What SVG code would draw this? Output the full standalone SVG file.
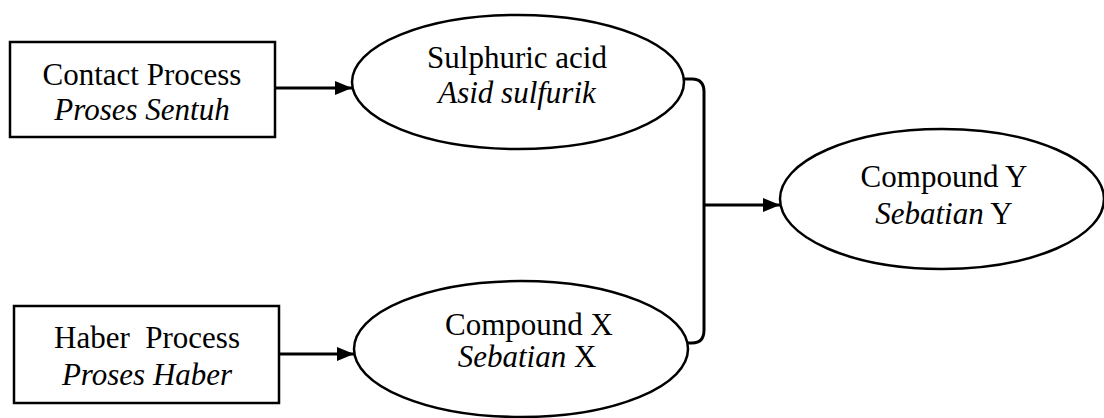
<svg xmlns="http://www.w3.org/2000/svg" width="1104" height="418" viewBox="0 0 1104 418">
<defs>
<style>
.box{fill:#fff;stroke:#000;stroke-width:2.5}
.ell{fill:#fff;stroke:#000;stroke-width:2.5}
.t{font-family:"Liberation Serif","Times New Roman",serif;font-size:31px;fill:#000;text-anchor:middle}
.i{font-style:italic}
.con{fill:none;stroke:#000;stroke-width:3}
</style>
<marker id="ah" markerUnits="userSpaceOnUse" markerWidth="18" markerHeight="14" refX="17" refY="7" orient="auto">
<path d="M0,0 L17,7 L0,14 Z" fill="#000"/>
</marker>
</defs>
<rect width="1104" height="418" fill="#fff"/>
<g id="connectors">
<line class="con" x1="275" y1="88" x2="352" y2="88" marker-end="url(#ah)"/>
<line class="con" x1="279" y1="354" x2="354" y2="354" marker-end="url(#ah)"/>
<path class="con" d="M683,79 L692,79 Q704,79 704,92 L704,330 Q704,343 692,343 L687,343"/>
<line class="con" x1="704" y1="205" x2="780" y2="205" marker-end="url(#ah)"/>
</g>
<g id="contact">
<rect class="box" x="10" y="42" width="265" height="95"/>
<text class="t" x="142" y="85">Contact Process</text>
<text class="t i" x="142" y="120">Proses Sentuh</text>
</g>
<g id="haber">
<rect class="box" x="14" y="306" width="265" height="97"/>
<text class="t" x="147" y="348" xml:space="preserve">Haber  Process</text>
<text class="t i" x="147" y="385">Proses Haber</text>
</g>
<g id="sulphuric">
<ellipse class="ell" cx="518" cy="82" rx="166" ry="67"/>
<text class="t" x="517" y="68">Sulphuric acid</text>
<text class="t i" x="517" y="103">Asid sulfurik</text>
</g>
<g id="compoundX">
<ellipse class="ell" cx="521" cy="349" rx="167" ry="68"/>
<text class="t" x="529" y="335">Compound X</text>
<text class="t" x="527" y="367"><tspan class="i">Sebatian</tspan> X</text>
</g>
<g id="compoundY">
<ellipse class="ell" cx="942" cy="199" rx="162" ry="70"/>
<text class="t" x="944" y="187">Compound Y</text>
<text class="t" x="944" y="224"><tspan class="i">Sebatian</tspan> Y</text>
</g>
</svg>
